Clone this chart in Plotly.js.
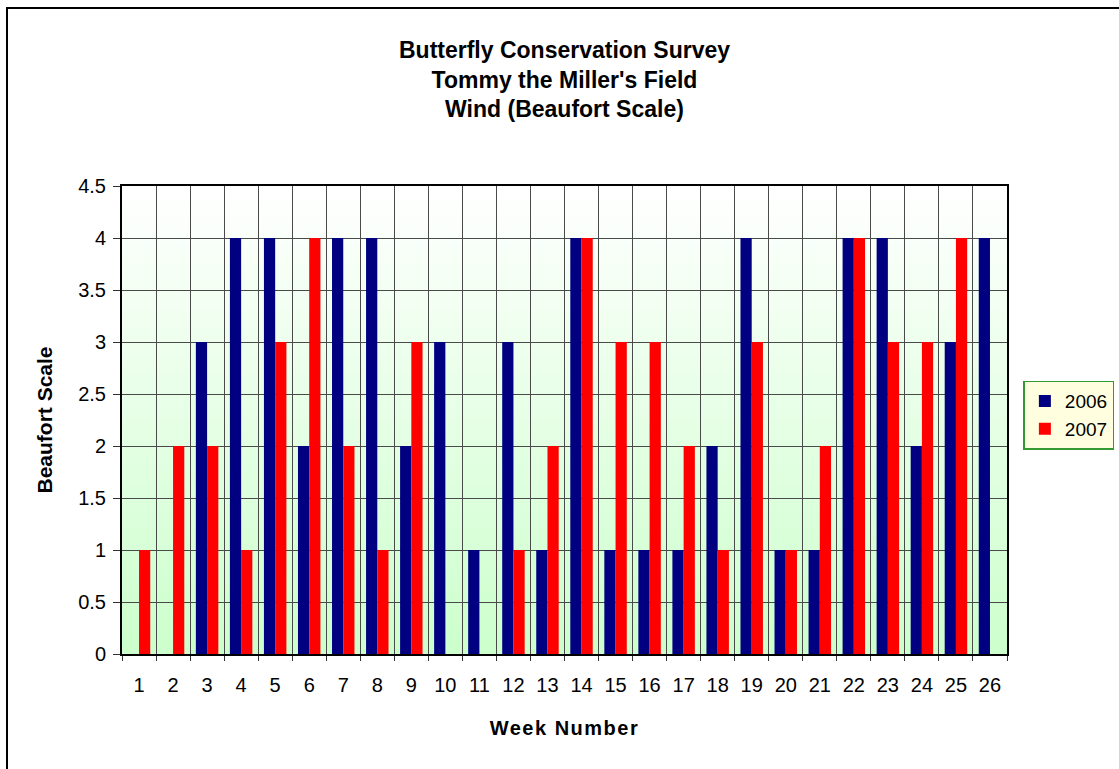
<!DOCTYPE html>
<html>
<head>
<meta charset="utf-8">
<script src="https://cdn.plot.ly/plotly-3.0.1.min.js"></script>
<style>
  html, body { margin: 0; padding: 0; background: #ffffff; overflow: hidden; }
  #wrap { position: relative; width: 1119px; height: 769px; }
  #frame { position: absolute; left: 6px; top: 7px; width: 1200px; height: 900px;
           border-left: 2px solid #000; border-top: 2px solid #000; pointer-events: none; }
  #chart { position: absolute; left: 0; top: 0; width: 1119px; height: 769px; }
  .xtitle { letter-spacing: 1.5px; }
</style>
</head>
<body>
<div id="wrap">
  <div id="chart"></div>
  <div id="frame"></div>
</div>
<script>
const weeks = ["1","2","3","4","5","6","7","8","9","10","11","12","13","14","15","16","17","18","19","20","21","22","23","24","25","26"];
const wind2006 = [0,0,3,4,4,2,4,4,2,3,1,3,1,4,1,1,1,2,4,1,1,4,4,2,3,4];
const wind2007 = [1,2,2,1,3,4,2,1,3,0,0,1,2,4,3,3,2,1,3,1,2,4,3,3,4,0];
const yTicks = [0,0.5,1,1.5,2,2.5,3,3.5,4,4.5];

const font = "Liberation Sans, Arial, sans-serif";

const gradSvg = '<svg xmlns="http://www.w3.org/2000/svg" width="10" height="100" preserveAspectRatio="none">' +
  '<defs><linearGradient id="g" x1="0" y1="0" x2="0" y2="1">' +
  '<stop offset="0" stop-color="#ffffff"/><stop offset="1" stop-color="#ccffcc"/></linearGradient></defs>' +
  '<rect width="10" height="100" fill="url(#g)"/></svg>';
const gradUri = 'data:image/svg+xml;base64,' + btoa(gradSvg);

const traces = [
  { type: "bar", name: "2006", x: weeks, y: wind2006, marker: { color: "#000080" } },
  { type: "bar", name: "2007", x: weeks, y: wind2007, marker: { color: "#ff0000" } }
];

const layout = {
  width: 1119, height: 769,
  margin: { l: 122, r: 112, t: 186, b: 115, pad: 0, autoexpand: false },
  paper_bgcolor: "rgba(0,0,0,0)",
  plot_bgcolor: "rgba(0,0,0,0)",
  font: { family: font, color: "#000", size: 20 },
  barmode: "group",
  bargap: 0.34,
  bargroupgap: 0,
  title: {
    text: "<b>Butterfly Conservation Survey</b><br><b>Tommy the Miller's Field</b><br><b>Wind (Beaufort Scale)</b>",
    font: { family: font, size: 23, color: "#000" },
    x: 0.5, xref: "paper", xanchor: "center",
    y: 0.925, yref: "container", yanchor: "top"
  },
  xaxis: {
    type: "category",
    tickson: "boundaries",
    ticks: "outside", ticklen: 5, tickcolor: "#333", tickwidth: 1,
    ticklabelstandoff: 12,
    showgrid: true, gridcolor: "#4a4a4a", gridwidth: 1,
    showline: true, linecolor: "#000", linewidth: 2, mirror: true,
    tickfont: { family: font, size: 20, color: "#000" },
    title: { text: "<b>Week Number</b>", font: { family: font, size: 20, color: "#000" }, standoff: 26 },
    zeroline: false
  },
  yaxis: {
    range: [0, 4.5],
    tickvals: yTicks,
    ticktext: yTicks.map(v => String(v)),
    ticks: "outside", ticklen: 7, tickcolor: "#333", tickwidth: 1,
    ticklabelstandoff: 3,
    showgrid: true, gridcolor: "#4a4a4a", gridwidth: 1,
    showline: true, linecolor: "#000", linewidth: 2, mirror: true,
    tickfont: { family: font, size: 20, color: "#000" },
    title: { text: "<b>Beaufort Scale</b>", font: { family: font, size: 21, color: "#000" }, standoff: 20 },
    zeroline: false
  },
  legend: {
    x: 1.0185, xanchor: "left", xref: "paper",
    y: 0.584, yanchor: "top", yref: "paper",
    bgcolor: "#ffffe0", bordercolor: "#339933", borderwidth: 1.5,
    font: { family: font, size: 19, color: "#000" },
    traceorder: "normal",
    itemwidth: 30,
    tracegroupgap: 0
  },
  images: [{
    source: gradUri, xref: "paper", yref: "paper",
    x: 0, y: 1, sizex: 1, sizey: 1, xanchor: "left", yanchor: "top",
    sizing: "stretch", layer: "below"
  }],
  showlegend: true
};

Plotly.newPlot("chart", traces, layout, { displayModeBar: false, staticPlot: true });
</script>
</body>
</html>
